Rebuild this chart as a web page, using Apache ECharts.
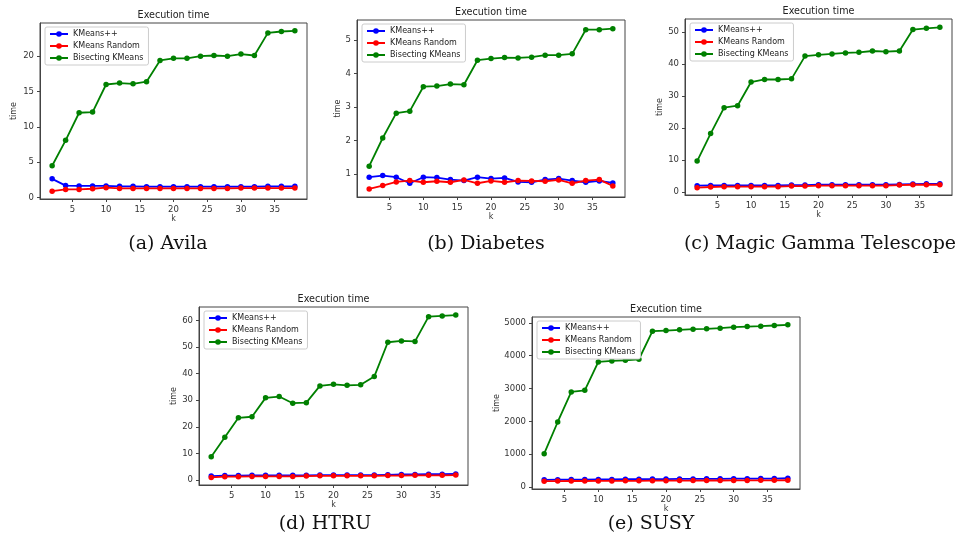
<!DOCTYPE html>
<html lang="en">
<head>
<meta charset="UTF-8">
<title>Execution time</title>
<style>
    html, body { margin: 0; padding: 0; background: #fff; }
    #main { width: 964px; height: 551px; }
</style>
</head>
<body>
<div id="main"></div>
<script src="https://cdn.jsdelivr.net/npm/echarts@6/dist/echarts.min.js"></script>
<script>
// number of clusters k
var kValues = [2, 4, 6, 8, 10, 12, 14, 16, 18, 20, 22, 24, 26, 28, 30, 32, 34, 36, 38];
var seriesNames = ['KMeans++', 'KMeans Random', 'Bisecting KMeans'];

// (a) Avila
var avilaPlus   = [2.65, 1.7, 1.65, 1.65, 1.65, 1.6, 1.6, 1.55, 1.55, 1.55, 1.55, 1.55, 1.55, 1.55, 1.55, 1.55, 1.6, 1.6, 1.6];
var avilaRandom = [0.9, 1.15, 1.15, 1.25, 1.4, 1.3, 1.3, 1.3, 1.3, 1.3, 1.3, 1.3, 1.3, 1.3, 1.35, 1.35, 1.35, 1.35, 1.35];
var avilaBisect = [4.5, 8.1, 12.0, 12.1, 16.0, 16.2, 16.1, 16.4, 19.4, 19.7, 19.7, 20.0, 20.1, 20.0, 20.3, 20.1, 23.3, 23.5, 23.6];
var avilaTicks  = [0, 5, 10, 15, 20];

// (b) Diabetes
var diabPlus   = [0.9, 0.95, 0.9, 0.72, 0.9, 0.89, 0.83, 0.8, 0.9, 0.86, 0.88, 0.76, 0.75, 0.83, 0.86, 0.8, 0.75, 0.79, 0.73];
var diabRandom = [0.55, 0.65, 0.76, 0.8, 0.75, 0.78, 0.75, 0.82, 0.72, 0.79, 0.75, 0.8, 0.79, 0.78, 0.82, 0.72, 0.8, 0.83, 0.64];
var diabBisect = [1.23, 2.07, 2.81, 2.87, 3.6, 3.62, 3.68, 3.66, 4.39, 4.44, 4.47, 4.46, 4.48, 4.54, 4.54, 4.58, 5.3, 5.3, 5.33];
var diabTicks  = [1, 2, 3, 4, 5];

// (c) Magic Gamma Telescope
var magicPlus   = [1.9, 2.0, 2.0, 2.0, 2.0, 2.0, 2.0, 2.1, 2.1, 2.2, 2.2, 2.2, 2.2, 2.2, 2.2, 2.3, 2.4, 2.5, 2.5];
var magicRandom = [1.3, 1.5, 1.6, 1.6, 1.6, 1.6, 1.6, 1.8, 1.8, 1.9, 1.9, 1.9, 1.9, 1.9, 1.9, 2.1, 2.2, 2.2, 2.2];
var magicBisect = [9.6, 18.2, 26.3, 26.9, 34.3, 35.1, 35.1, 35.3, 42.4, 42.8, 43.1, 43.4, 43.6, 44.0, 43.8, 44.0, 50.7, 51.1, 51.4];
var magicTicks  = [0, 10, 20, 30, 40, 50];

// (d) HTRU
var htruPlus   = [1.5, 1.7, 1.7, 1.8, 1.8, 1.8, 1.8, 1.8, 1.9, 1.9, 1.9, 1.9, 1.9, 2.0, 2.1, 2.1, 2.2, 2.2, 2.3];
var htruRandom = [1.0, 1.3, 1.3, 1.4, 1.4, 1.4, 1.4, 1.5, 1.6, 1.6, 1.6, 1.6, 1.6, 1.7, 1.7, 1.8, 1.8, 1.8, 1.9];
var htruBisect = [8.8, 16.1, 23.4, 23.8, 30.9, 31.4, 28.9, 29.1, 35.4, 36.0, 35.6, 35.8, 38.9, 51.8, 52.3, 52.1, 61.4, 61.7, 62.0];
var htruTicks  = [0, 10, 20, 30, 40, 50, 60];

// (e) SUSY
var susyPlus   = [220, 225, 228, 230, 232, 235, 240, 240, 245, 245, 248, 250, 252, 252, 255, 255, 258, 260, 270];
var susyRandom = [180, 182, 185, 185, 188, 188, 192, 192, 195, 195, 198, 198, 200, 200, 202, 202, 205, 205, 208];
var susyBisect = [1016, 1982, 2896, 2947, 3811, 3841, 3862, 3892, 4746, 4766, 4787, 4807, 4817, 4837, 4868, 4888, 4898, 4919, 4939];
var susyTicks  = [0, 1000, 2000, 3000, 4000, 5000];

var xTicks = [5, 10, 15, 20, 25, 30, 35];

var colors = ['#0000ff', '#ff0000', '#008000'];

// layout of the five panels
var panels = [
    {caption: '(a) Avila', lines: [avilaPlus, avilaRandom, avilaBisect], ticks: avilaTicks,
     left: 40, top: 23, width: 267, height: 176, yMin: -0.2, yMax: 24.7, yGap: 22, capX: 168, capY: 235},
    {caption: '(b) Diabetes', lines: [diabPlus, diabRandom, diabBisect], ticks: diabTicks,
     left: 357, top: 20, width: 268, height: 177, yMin: 0.31, yMax: 5.59, yGap: 15, capX: 486, capY: 235},
    {caption: '(c) Magic Gamma Telescope', lines: [magicPlus, magicRandom, magicBisect], ticks: magicTicks,
     left: 685, top: 19, width: 267, height: 176, yMin: -1, yMax: 54, yGap: 21, capX: 820, capY: 235},
    {caption: '(d) HTRU', lines: [htruPlus, htruRandom, htruBisect], ticks: htruTicks,
     left: 199, top: 307, width: 269, height: 178, yMin: -1.84, yMax: 65.04, yGap: 20, capX: 325, capY: 515},
    {caption: '(e) SUSY', lines: [susyPlus, susyRandom, susyBisect], ticks: susyTicks,
     left: 532, top: 317, width: 268, height: 172, yMin: -58, yMax: 5178, yGap: 30, capX: 651, capY: 515}
];

var chart = echarts.init(document.getElementById('main'), null, {renderer: 'canvas'});

var titles = [], grids = [], xAxes = [], yAxes = [], legends = [], series = [];

// plain number labels, no thousands separator
var plainLabel = function (v) { return String(v); };

panels.forEach(function (p, i) {
    var cx = p.left + p.width / 2;
    titles.push({
        text: 'Execution time', left: cx, top: p.top - 13, textAlign: 'center', padding: 0,
        textStyle: {fontFamily: 'DejaVu Sans', fontSize: 9.6, fontWeight: 'normal', color: '#222'}
    });
    titles.push({
        text: p.caption, left: p.capX, top: p.capY, textAlign: 'center', padding: 0,
        textStyle: {fontFamily: 'DejaVu Serif', fontSize: 19, fontWeight: 'normal', color: '#111'}
    });
    grids.push({
        left: p.left, top: p.top, width: p.width, height: p.height,
        show: true, borderColor: '#444', borderWidth: 1, backgroundColor: '#fff'
    });
    xAxes.push({
        gridIndex: i, type: 'value', min: 0.2, max: 39.8,
        name: 'k', nameLocation: 'middle', nameGap: 16,
        nameTextStyle: {fontFamily: 'DejaVu Sans', fontSize: 8, color: '#333'},
        axisLine: {show: true, onZero: false, lineStyle: {color: '#444', width: 1}},
        axisTick: {show: true, length: 3, customValues: xTicks, lineStyle: {color: '#444'}},
        axisLabel: {customValues: xTicks, margin: 6, formatter: plainLabel,
                    fontFamily: 'DejaVu Sans', fontSize: 8.5, color: '#333'},
        splitLine: {show: false}
    });
    yAxes.push({
        gridIndex: i, type: 'value', min: p.yMin, max: p.yMax,
        name: 'time', nameLocation: 'middle', nameGap: p.yGap,
        nameTextStyle: {fontFamily: 'DejaVu Sans', fontSize: 8, color: '#333'},
        axisLine: {show: true, onZero: false, lineStyle: {color: '#444', width: 1}},
        axisTick: {show: true, length: 3, customValues: p.ticks, lineStyle: {color: '#444'}},
        axisLabel: {customValues: p.ticks, margin: 6, formatter: plainLabel,
                    fontFamily: 'DejaVu Sans', fontSize: 8.5, color: '#333'},
        splitLine: {show: false}
    });
    legends.push({
        orient: 'vertical', left: p.left + 5, top: p.top + 4,
        data: seriesNames, itemWidth: 18, itemHeight: 7, itemGap: 4,
        padding: [3, 5, 3, 4], borderColor: '#ccc', borderWidth: 1, borderRadius: 2,
        backgroundColor: '#fff',
        textStyle: {fontFamily: 'DejaVu Sans', fontSize: 8, color: '#222'}
    });
    p.lines.forEach(function (vals, j) {
        series.push({
            name: seriesNames[j], type: 'line',
            xAxisIndex: i, yAxisIndex: i,
            data: kValues.map(function (k, n) { return [k, vals[n]]; }),
            symbol: 'circle', symbolSize: 5.5, showSymbol: true,
            lineStyle: {color: colors[j], width: 1.8},
            itemStyle: {color: colors[j]},
            animation: false
        });
    });
});

chart.setOption({
    animation: false,
    title: titles,
    grid: grids,
    xAxis: xAxes,
    yAxis: yAxes,
    legend: legends,
    series: series
});
</script>
</body>
</html>
